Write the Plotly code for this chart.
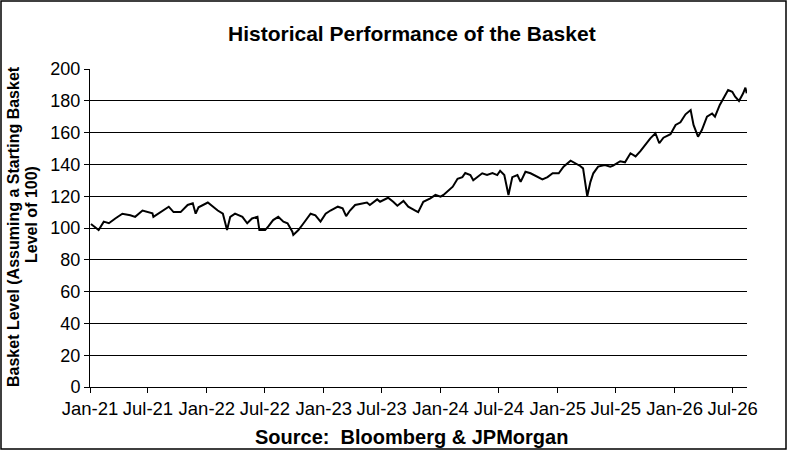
import plotly.graph_objects as go

# basket level, roughly weekly/biweekly samples
dates = [
    "2021-01-04", "2021-01-28", "2021-02-13", "2021-03-01", "2021-03-21", "2021-04-12",
    "2021-05-07", "2021-05-22", "2021-06-14", "2021-07-15", "2021-07-18", "2021-08-16",
    "2021-09-04", "2021-09-19", "2021-10-11", "2021-11-02", "2021-11-18", "2021-11-27",
    "2021-12-06", "2022-01-04", "2022-01-19", "2022-02-04", "2022-02-20", "2022-03-05",
    "2022-03-15", "2022-03-30", "2022-04-22", "2022-05-07", "2022-05-22", "2022-06-08",
    "2022-06-14", "2022-07-02", "2022-07-12", "2022-07-27", "2022-08-12", "2022-08-28",
    "2022-09-10", "2022-09-25", "2022-09-28", "2022-10-14", "2022-10-30", "2022-11-21",
    "2022-12-06", "2022-12-22", "2023-01-07", "2023-01-22", "2023-02-14", "2023-03-01",
    "2023-03-12", "2023-03-24", "2023-04-09", "2023-04-25", "2023-05-16", "2023-05-25",
    "2023-06-17", "2023-06-26", "2023-07-21", "2023-08-06", "2023-08-19", "2023-09-07",
    "2023-09-22", "2023-10-14", "2023-10-23", "2023-11-08", "2023-11-30", "2023-12-16",
    "2024-01-01", "2024-01-10", "2024-01-22", "2024-02-08", "2024-02-23", "2024-03-09",
    "2024-03-18", "2024-04-03", "2024-04-12", "2024-04-25", "2024-05-10", "2024-05-25",
    "2024-06-11", "2024-06-26", "2024-07-05", "2024-07-18", "2024-07-31", "2024-08-12",
    "2024-08-28", "2024-09-07", "2024-09-22", "2024-10-08", "2024-10-30", "2024-11-14",
    "2024-11-30", "2024-12-16", "2025-01-04", "2025-01-19", "2025-02-10", "2025-02-26",
    "2025-03-12", "2025-03-21", "2025-04-03", "2025-04-13", "2025-04-22", "2025-05-07",
    "2025-05-28", "2025-06-14", "2025-06-23", "2025-07-15", "2025-07-30", "2025-08-16",
    "2025-09-01", "2025-09-16", "2025-10-01", "2025-10-17", "2025-11-02", "2025-11-14",
    "2025-11-27", "2025-12-19", "2026-01-04", "2026-01-19", "2026-02-04", "2026-02-20",
    "2026-03-01", "2026-03-15", "2026-03-27", "2026-04-12", "2026-04-28", "2026-05-07",
    "2026-05-22", "2026-06-08", "2026-06-17", "2026-06-30", "2026-07-09", "2026-07-21",
    "2026-08-03", "2026-08-10", "2026-08-14",
]
basket = [
    102.5, 98.7, 104.0, 103.0, 106.0, 109.0,
    108.0, 107.0, 111.0, 109.3, 107.0, 111.0,
    113.4, 110.0, 110.0, 114.5, 115.5, 109.0,
    113.0, 116.0, 113.4, 111.0, 109.0, 98.7,
    107.0, 109.0, 107.0, 103.0, 106.0, 107.0,
    98.7, 98.7, 101.0, 105.0, 107.0, 104.0,
    103.0, 97.7, 95.6, 98.7, 103.0, 109.0,
    108.0, 104.0, 109.0, 111.0, 113.4, 112.4,
    107.5, 111.0, 114.5, 115.0, 116.0, 114.5,
    118.0, 116.5, 119.0, 116.5, 114.0, 117.0,
    113.4, 111.0, 110.0, 116.5, 118.6, 120.8,
    119.7, 120.8, 122.8, 126.0, 131.0, 132.0,
    134.6, 133.3, 130.0, 132.0, 134.4, 133.3,
    134.6, 133.3, 136.0, 133.3, 120.8, 132.0,
    133.3, 129.0, 135.4, 134.4, 132.0, 130.6,
    132.0, 134.4, 134.4, 138.6, 142.3, 140.6,
    139.0, 137.5, 120.0, 129.0, 134.4, 138.6,
    139.6, 138.6, 139.2, 142.0, 141.3, 147.0,
    145.0, 148.4, 152.2, 156.4, 159.6, 153.3,
    156.8, 159.0, 164.8, 166.5, 171.5, 174.2,
    164.8, 157.4, 161.6, 170.0, 172.0, 170.0,
    177.4, 183.6, 186.8, 185.7, 182.6, 179.9,
    184.7, 188.3, 184.7,
]

FONT = "Liberation Sans, Arial, sans-serif"

# plot area in pixels: x 90..747, y 69..387
L, R, T, B = 90, 41, 69, 64
PW, PH = 788 - L - R, 451 - T - B


def px(x):
    return (x - L) / PW


def py(y):
    return (451 - B - y) / PH


fig = go.Figure()
fig.add_trace(
    go.Scatter(
        x=dates,
        y=basket,
        mode="lines",
        line={"color": "black", "width": 2},
        showlegend=False,
    )
)

fig.update_xaxes(
    type="date",
    range=["2021-01-01", "2026-08-15"],
    tick0="2021-01-01",
    dtick="M6",
    tickformat="%b-%y",
    ticks="outside",
    ticklen=5,
    tickcolor="black",
    showline=True,
    linecolor="black",
    linewidth=1,
    showgrid=False,
    zeroline=False,
    tickfont={"family": FONT, "size": 18.5, "color": "black"},
)
fig.update_yaxes(
    range=[0, 200],
    dtick=20,
    ticks="outside",
    ticklen=5,
    tickcolor="black",
    showline=True,
    linecolor="black",
    linewidth=1,
    showgrid=True,
    gridcolor="black",
    gridwidth=1,
    zeroline=False,
    tickfont={"family": FONT, "size": 18, "color": "black"},
)

texts = [
    ("<b>Historical Performance of the Basket</b>", 412, 33, 21, 0),
    ("<b>Source:  Bloomberg & JPMorgan</b>", 411, 437, 20, 0),
    ("<b>Basket Level (Assuming a Starting Basket</b>", 13, 227, 16, -90),
    ("<b>Level of 100)</b>", 31, 215, 16, -90),
]
for text, x, y, size, angle in texts:
    fig.add_annotation(
        text=text,
        xref="paper",
        yref="paper",
        x=px(x),
        y=py(y),
        xanchor="center",
        yanchor="middle",
        textangle=angle,
        showarrow=False,
        font={"family": FONT, "size": size, "color": "black"},
    )

# outer frame around the whole picture
fig.add_shape(
    type="rect",
    xref="paper",
    yref="paper",
    x0=px(1),
    x1=px(786),
    y0=py(449),
    y1=py(1),
    line={"color": "black", "width": 1.5},
)

fig.update_layout(
    width=788,
    height=451,
    margin={"l": L, "r": R, "t": T, "b": B},
    paper_bgcolor="white",
    plot_bgcolor="white",
)

fig.write_html(
    "out.html",
    config={"displayModeBar": False},
    post_script="document.body.style.margin='0';",
)
